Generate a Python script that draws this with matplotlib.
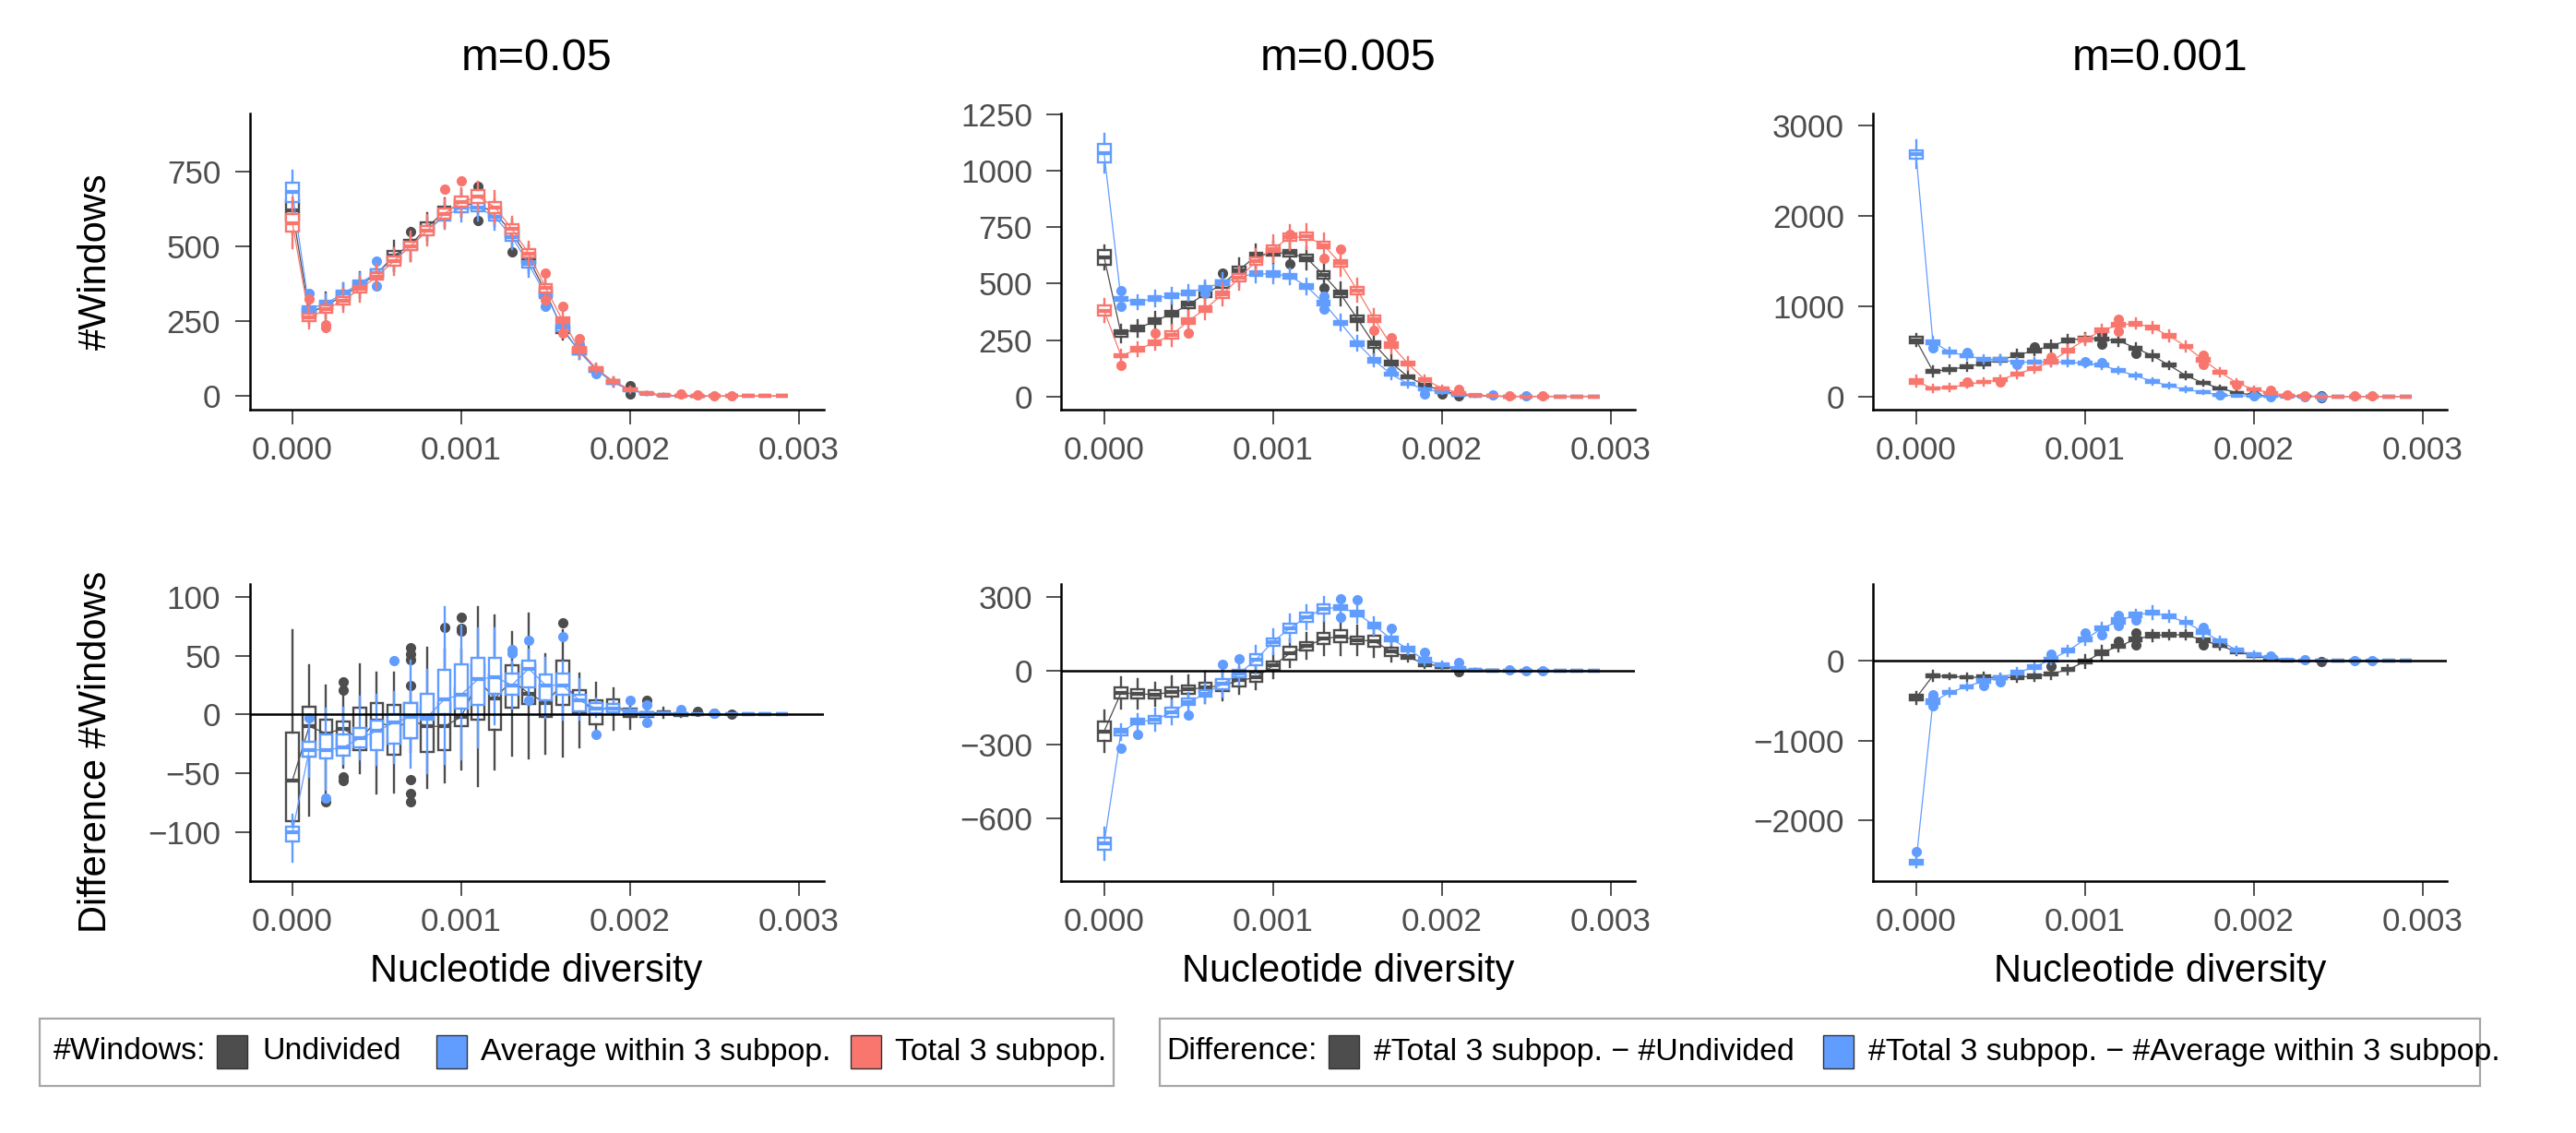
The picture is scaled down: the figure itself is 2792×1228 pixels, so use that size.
import matplotlib
matplotlib.use("Agg")
import matplotlib.pyplot as plt
from matplotlib.patches import Rectangle
import numpy as np

plt.rcParams['font.family'] = ['Liberation Sans', 'DejaVu Sans']

# ---------------- data ----------------
bins = [i * 0.0001 for i in range(30)]
xticks = [0.0, 0.001, 0.002, 0.003]
xticklabels = ['0.000', '0.001', '0.002', '0.003']
titles = ['m=0.05', 'm=0.005', 'm=0.001']
series_names = ['Undivided', 'Average within 3 subpop.', 'Total 3 subpop.']
diff_names = ['#Total 3 subpop. \u2212 #Undivided', '#Total 3 subpop. \u2212 #Average within 3 subpop.']

# Top-left (m=0.05): medians, IQR, whisker extension beyond box, outliers (bin, value)
TL_gray_med = [620, 277, 303, 335, 370, 408, 468, 505, 565, 615, 642, 638, 612, 545, 458, 347, 222, 150, 88, 47, 22, 9, 3, 1, 0, 0, 0, 0, 0, 0]
TL_gray_iqr = [65, 25, 25, 25, 28, 28, 30, 30, 30, 32, 30, 30, 30, 30, 28, 26, 22, 18, 14, 10, 7, 4, 2, 1, 1, 0, 0, 0, 0, 0]
TL_gray_wsk = [45, 25, 30, 30, 30, 30, 35, 40, 30, 30, 30, 30, 30, 30, 30, 26, 22, 16, 12, 10, 8, 4, 2, 1, 1, 0, 0, 0, 0, 0]
TL_gray_out = [(7, 548), (11, 699), (11, 586), (13, 481), (20, 34), (20, 8)]
TL_blue_med = [680, 290, 310, 342, 377, 412, 455, 500, 552, 600, 628, 630, 598, 532, 440, 338, 228, 148, 88, 46, 20, 8, 2, 1, 0, 0, 0, 0, 0, 0]
TL_blue_iqr = [63, 18, 18, 20, 20, 22, 22, 24, 24, 26, 28, 26, 25, 25, 24, 22, 20, 16, 12, 9, 6, 3, 2, 1, 0, 0, 0, 0, 0, 0]
TL_blue_wsk = [40, 20, 22, 25, 25, 25, 25, 30, 30, 30, 30, 30, 30, 30, 30, 25, 20, 15, 12, 9, 6, 3, 2, 1, 0, 0, 0, 0, 0, 0]
TL_blue_out = [(1, 342), (5, 452), (5, 368), (15, 301), (17, 172), (18, 75)]
TL_red_med = [578, 262, 290, 319, 357, 399, 450, 501, 553, 609, 648, 666, 630, 558, 476, 361, 253, 155, 92, 50, 22, 9, 3, 1, 0, 0, 0, 0, 0, 0]
TL_red_iqr = [59, 25, 24, 26, 23, 23, 30, 28, 31, 36, 34, 41, 36, 30, 29, 28, 20, 16, 12, 9, 6, 3, 2, 1, 1, 0, 0, 0, 0, 0]
TL_red_wsk = [55, 25, 20, 25, 30, 30, 30, 35, 35, 30, 30, 30, 35, 25, 25, 20, 18, 14, 12, 9, 6, 3, 2, 1, 1, 0, 0, 0, 0, 0]
TL_red_out = [(1, 325), (2, 239), (2, 229), (9, 692), (10, 719), (15, 409), (15, 322), (16, 301), (16, 209), (17, 193), (23, 8), (24, 3), (25, 2), (26, 2)]

# Top-middle (m=0.005)
TM_gray_med = [617, 279, 302, 333, 367, 406, 456, 497, 561, 623, 638, 635, 613, 538, 455, 344, 231, 149, 87, 49, 26, 8, 3, 1, 0, 0, 0, 0, 0, 0]
TM_gray_iqr = [68, 30, 25, 25, 28, 28, 32, 32, 30, 30, 28, 28, 30, 32, 32, 30, 28, 20, 15, 12, 8, 4, 2, 1, 0, 0, 0, 0, 0, 0]
TM_gray_wsk = [20, 25, 25, 30, 35, 35, 35, 40, 35, 35, 35, 35, 35, 35, 35, 35, 30, 25, 20, 12, 8, 4, 2, 1, 0, 0, 0, 0, 0, 0]
TM_gray_out = [(7, 548), (11, 586), (13, 481), (20, 10), (21, 2)]
TM_blue_med = [1078, 432, 418, 436, 447, 460, 481, 504, 530, 545, 542, 534, 488, 415, 326, 235, 160, 98, 56, 33, 18, 5, 2, 1, 0, 0, 0, 0, 0, 0]
TM_blue_iqr = [82, 18, 18, 20, 18, 20, 20, 22, 25, 22, 22, 20, 20, 20, 20, 20, 18, 14, 10, 8, 6, 3, 1, 1, 0, 0, 0, 0, 0, 0]
TM_blue_wsk = [45, 25, 20, 25, 25, 25, 25, 30, 30, 30, 30, 25, 25, 25, 25, 22, 18, 14, 10, 8, 6, 3, 1, 1, 0, 0, 0, 0, 0, 0]
TM_blue_out = [(1, 470), (1, 399), (6, 456), (13, 443), (13, 388), (17, 111), (19, 10), (23, 5), (25, 4)]
TM_red_med = [381, 180, 209, 238, 272, 335, 388, 452, 525, 600, 654, 705, 709, 671, 590, 470, 344, 228, 145, 74, 37, 15, 5, 1, 0, 0, 0, 0, 0, 0]
TM_red_iqr = [43, 15, 18, 22, 34, 25, 25, 30, 32, 30, 30, 32, 32, 30, 32, 32, 30, 22, 18, 12, 8, 5, 2, 1, 0, 0, 0, 0, 0, 0]
TM_red_wsk = [30, 20, 20, 20, 30, 30, 35, 35, 35, 40, 45, 40, 40, 35, 40, 35, 30, 25, 20, 14, 8, 5, 2, 1, 0, 0, 0, 0, 0, 0]
TM_red_out = [(1, 139), (3, 281), (5, 279), (11, 718), (13, 613), (14, 652), (16, 292), (17, 261), (21, 33), (24, 3), (26, 2)]

# Top-right (m=0.001)
TR_gray_med = [625, 280, 297, 331, 365, 406, 457, 509, 560, 621, 645, 635, 618, 536, 451, 345, 229, 150, 89, 41, 14, 6, 2, 1, 0, 0, 0, 0, 0, 0]
TR_gray_iqr = [68, 35, 30, 30, 35, 35, 35, 35, 35, 35, 35, 35, 35, 35, 35, 30, 30, 25, 20, 15, 10, 5, 2, 1, 0, 0, 0, 0, 0, 0]
TR_gray_wsk = [30, 40, 30, 30, 35, 35, 40, 40, 40, 40, 40, 40, 40, 35, 35, 30, 25, 20, 15, 10, 8, 4, 2, 1, 0, 0, 0, 0, 0, 0]
TR_gray_out = [(7, 549), (11, 696), (11, 584), (13, 474), (20, 30), (24, 6), (24, -10)]
TR_blue_med = [2683, 604, 491, 450, 413, 406, 379, 382, 382, 379, 365, 345, 287, 229, 167, 116, 75, 48, 14, 7, 3, 2, 1, 0, 0, 0, 0, 0, 0, 0]
TR_blue_iqr = [85, 40, 35, 30, 30, 30, 30, 30, 30, 30, 30, 30, 25, 25, 25, 20, 20, 15, 10, 8, 5, 3, 1, 1, 0, 0, 0, 0, 0, 0]
TR_blue_wsk = [110, 40, 35, 30, 30, 35, 30, 30, 30, 30, 30, 30, 25, 25, 25, 20, 20, 15, 10, 8, 5, 3, 1, 1, 0, 0, 0, 0, 0, 0]
TR_blue_out = [(1, 543), (3, 491), (6, 355), (10, 390), (11, 372), (18, 20), (20, 8), (21, -5), (23, -3), (24, -8)]
TR_red_med = [167, 89, 99, 133, 160, 184, 249, 311, 386, 509, 628, 730, 792, 809, 764, 669, 553, 406, 270, 150, 78, 38, 10, 3, 0, 0, 0, 0, 0, 0]
TR_red_iqr = [45, 25, 25, 28, 28, 30, 35, 35, 35, 40, 40, 40, 40, 40, 40, 40, 35, 35, 30, 25, 18, 10, 5, 2, 0, 0, 0, 0, 0, 0]
TR_red_wsk = [40, 25, 25, 25, 30, 30, 30, 35, 35, 40, 40, 40, 40, 40, 45, 40, 35, 35, 30, 25, 18, 10, 5, 2, 0, 0, 0, 0, 0, 0]
TR_red_out = [(3, 157), (5, 157), (8, 440), (12, 857), (12, 720), (17, 457), (17, 355), (19, 133), (21, 65), (22, 15), (23, 8), (26, 2), (27, 2)]

# Bottom-left (difference, m=0.05): explicit box statistics
BL_gray_lo = [-92, -86, -72, -45, -50, -67, -66, -32, -62, -58, -47, -61, -47, -35, -37, -33, -36, -28, -12, -13, -12, -6, -3, -2, 0, 0, 0, 0, 0, 0]
BL_gray_q1 = [-91, -36, -36, -30, -30, -26, -34, -20, -32, -30, -10, -4, -13, 6, 9, -2, 8, 1, -8, 2, -2, -2, 0, -1, 0, 0, 0, 0, 0, 0]
BL_gray_med = [-56, -10, -16, -12, -21, -5, -12, -5, -10, -10, -2, 29, 14, 29, 18, 10, 26, 13, 2, 8, 2, 1, 2, 0, 0, 0, 0, 0, 0, 0]
BL_gray_q3 = [-15, 7, -4, -6, 6, 10, 8, 10, 5, 10, 22, 42, 34, 42, 43, 25, 46, 21, 12, 13, 5, 2, 3, 1, 0, 0, 0, 0, 0, 0]
BL_gray_hi = [72, 42, 25, 15, 43, 36, 36, 20, 57, 55, 55, 91, 84, 70, 86, 51, 72, 35, 27, 22, 10, 5, 6, 2, 0, 0, 0, 0, 0, 0]
BL_gray_out = [(2, -74), (3, 28), (3, 21), (3, -53), (3, -56), (7, 57), (7, 51), (7, 47), (7, 25), (7, -55), (7, -67), (7, -74),
               (9, 74), (10, 83), (10, 73), (10, 71), (16, 78), (21, 12), (24, 3), (25, 1), (26, 0)]
BL_blue_lo = [-125, -53, -64, -42, -38, -43, -41, -45, -50, -42, -38, -28, -8, 5, 18, -3, -4, -4, -2, 0, 0, -2, 0, 0, 0, 0, 0, 0, 0, 0]
BL_blue_q1 = [-108, -36, -37, -35, -28, -30, -25, -20, -4, 0, 5, 8, 18, 17, 23, 12, 17, 3, 1, 2, 0, -1, 0, 0, 0, 0, 0, 0, 0, 0]
BL_blue_med = [-100, -30, -30, -28, -20, -14, -7, -2, -2, 13, 17, 30, 32, 25, 39, 25, 25, 12, 5, 5, 2, 1, 1, 0, 0, 0, 0, 0, 0, 0]
BL_blue_q3 = [-95, -23, -17, -17, -11, -5, 0, 10, 18, 38, 43, 48, 48, 35, 46, 34, 35, 17, 10, 9, 4, 2, 2, 1, 0, 0, 0, 0, 0, 0]
BL_blue_hi = [-85, -8, 5, 6, 15, 17, 19, 46, 38, 91, 76, 73, 73, 45, 55, 48, 45, 30, 14, 12, 6, 3, 2, 1, 0, 0, 0, 0, 0, 0]
BL_blue_out = [(1, -3), (2, -71), (6, 46), (13, 55), (13, 52), (14, 63), (14, 12), (16, 66), (18, -17), (20, 12), (21, 8), (21, -7), (23, 4), (25, 1)]

# Bottom-middle (difference, m=0.005)
BM_gray_med = [-247, -90, -95, -97, -87, -77, -68, -61, -40, -28, 20, 70, 99, 130, 139, 124, 120, 77, 54, 29, 16, 6, 2, 1, 0, 0, 0, 0, 0, 0]
BM_gray_iqr = [79, 46, 38, 35, 39, 33, 35, 47, 50, 38, 32, 53, 35, 44, 50, 32, 47, 34, 15, 19, 10, 5, 2, 1, 0, 0, 0, 0, 0, 0]
BM_gray_wsk = [45, 40, 40, 30, 45, 40, 45, 38, 30, 30, 35, 30, 35, 45, 50, 45, 40, 25, 10, 10, 6, 4, 2, 1, 0, 0, 0, 0, 0, 0]
BM_gray_out = [(21, -5)]
BM_blue_med = [-704, -250, -208, -200, -170, -128, -93, -55, -12, 45, 117, 172, 218, 252, 257, 232, 183, 129, 88, 42, 23, 9, 2, 1, 0, 0, 0, 0, 0, 0]
BM_blue_iqr = [50, 25, 24, 28, 38, 26, 29, 38, 31, 44, 31, 41, 37, 38, 17, 22, 21, 17, 16, 18, 13, 10, 3, 1, 0, 0, 0, 0, 0, 0]
BM_blue_wsk = [40, 20, 20, 30, 30, 25, 25, 30, 30, 35, 35, 35, 30, 30, 25, 25, 25, 15, 12, 10, 8, 5, 2, 1, 0, 0, 0, 0, 0, 0]
BM_blue_out = [(1, -316), (2, -260), (5, -181), (7, 24), (8, 48), (14, 292), (14, 217), (15, 290), (17, 171), (19, 74), (21, 33), (24, 4), (25, 1), (26, 1)]

# Bottom-right (difference, m=0.001)
BR_gray_med = [-467, -189, -197, -208, -208, -216, -205, -197, -166, -112, -12, 100, 181, 266, 317, 324, 324, 255, 189, 112, 62, 23, 5, 2, 0, 0, 0, 0, 0, 0]
BR_gray_iqr = [69, 38, 30, 30, 40, 35, 40, 40, 40, 40, 45, 50, 40, 40, 55, 50, 45, 40, 35, 30, 20, 10, 5, 2, 0, 0, 0, 0, 0, 0]
BR_gray_wsk = [40, 40, 20, 30, 40, 30, 45, 40, 40, 40, 60, 60, 40, 40, 40, 30, 40, 40, 30, 25, 15, 10, 5, 2, 0, 0, 0, 0, 0, 0]
BR_gray_out = [(8, -69), (12, 247), (13, 344), (13, 201), (17, 201), (24, -5)]
BR_blue_med = [-2525, -517, -398, -324, -255, -216, -151, -81, 15, 124, 266, 402, 498, 575, 602, 556, 479, 363, 247, 131, 73, 42, 10, 2, 0, 0, 0, 0, 0, 0]
BR_blue_iqr = [50, 58, 40, 35, 40, 40, 40, 45, 40, 45, 50, 50, 60, 50, 50, 50, 40, 50, 40, 35, 30, 20, 8, 3, 0, 0, 0, 0, 0, 0]
BR_blue_wsk = [40, 20, 30, 30, 40, 40, 40, 40, 40, 40, 40, 50, 50, 40, 60, 40, 40, 60, 40, 30, 25, 20, 8, 3, 0, 0, 0, 0, 0, 0]
BR_blue_out = [(0, -2390), (1, -429), (1, -467), (1, -564), (4, -313), (5, -266), (8, 81), (10, 344), (11, 324), (12, 568), (12, 436),
               (13, 514), (17, 421), (21, 60), (23, 15), (26, 2), (27, 2)]

# axis limits / ticks per panel
ylims = {'TL': (-45, 943), 'TM': (-59, 1255), 'TR': (-147, 3137),
         'BL': (-141.6, 111), 'BM': (-856, 352), 'BR': (-2764, 961)}
yticks = {'TL': [0, 250, 500, 750], 'TM': [0, 250, 500, 750, 1000, 1250], 'TR': [0, 1000, 2000, 3000],
          'BL': [-100, -50, 0, 50, 100], 'BM': [-600, -300, 0, 300], 'BR': [-2000, -1000, 0]}

GRAY = '#4D4D4D'
BLUE = '#619CFF'
RED = '#F8766D'

# ---------------- figure ----------------
W, H = 2792, 1228
fig = plt.figure(figsize=(W / 200, H / 200), dpi=200)


def fx(px):
    return px / W


def fy(py):
    return 1 - py / H


col_left = [270.6, 1150.4, 2030.4]
ax_w = 622
rows = {'T': (123, 444), 'B': (633, 955)}

axes = {}
for r, (top, bot) in rows.items():
    for c, key in enumerate(['L', 'M', 'R']):
        ax = fig.add_axes([fx(col_left[c]), fy(bot), fx(ax_w), (bot - top) / H])
        axes[r + key] = ax


def stats_from_iqr(med, iqr, wsk, out):
    st = []
    for i in range(len(med)):
        q1 = med[i] - iqr[i] / 2
        q3 = med[i] + iqr[i] / 2
        st.append(dict(med=med[i], q1=q1, q3=q3, whislo=q1 - wsk[i], whishi=q3 + wsk[i],
                       fliers=np.array([v for (b, v) in out if b == i])))
    return st


def stats_explicit(lo, q1, med, q3, hi, out):
    st = []
    for i in range(len(med)):
        st.append(dict(med=med[i], q1=q1[i], q3=q3[i], whislo=lo[i], whishi=hi[i],
                       fliers=np.array([v for (b, v) in out if b == i])))
    return st


def draw(ax, st, med, color, z):
    lw = 0.85
    ax.bxp(st, positions=bins, widths=0.000075, patch_artist=True, showcaps=False, manage_ticks=False,
           boxprops=dict(facecolor='white', edgecolor=color, linewidth=lw),
           whiskerprops=dict(color=color, linewidth=lw),
           medianprops=dict(color=color, linewidth=lw * 1.8, solid_capstyle='butt'),
           flierprops=dict(marker='o', markerfacecolor=color, markeredgecolor=color, markersize=3.0, linestyle='none'),
           zorder=z)
    ax.plot(bins, med, color=color, lw=0.45, zorder=z + 0.5)


panels = {
    'TL': [(stats_from_iqr(TL_gray_med, TL_gray_iqr, TL_gray_wsk, TL_gray_out), TL_gray_med, GRAY),
           (stats_from_iqr(TL_blue_med, TL_blue_iqr, TL_blue_wsk, TL_blue_out), TL_blue_med, BLUE),
           (stats_from_iqr(TL_red_med, TL_red_iqr, TL_red_wsk, TL_red_out), TL_red_med, RED)],
    'TM': [(stats_from_iqr(TM_gray_med, TM_gray_iqr, TM_gray_wsk, TM_gray_out), TM_gray_med, GRAY),
           (stats_from_iqr(TM_blue_med, TM_blue_iqr, TM_blue_wsk, TM_blue_out), TM_blue_med, BLUE),
           (stats_from_iqr(TM_red_med, TM_red_iqr, TM_red_wsk, TM_red_out), TM_red_med, RED)],
    'TR': [(stats_from_iqr(TR_gray_med, TR_gray_iqr, TR_gray_wsk, TR_gray_out), TR_gray_med, GRAY),
           (stats_from_iqr(TR_blue_med, TR_blue_iqr, TR_blue_wsk, TR_blue_out), TR_blue_med, BLUE),
           (stats_from_iqr(TR_red_med, TR_red_iqr, TR_red_wsk, TR_red_out), TR_red_med, RED)],
    'BL': [(stats_explicit(BL_gray_lo, BL_gray_q1, BL_gray_med, BL_gray_q3, BL_gray_hi, BL_gray_out), BL_gray_med, GRAY),
           (stats_explicit(BL_blue_lo, BL_blue_q1, BL_blue_med, BL_blue_q3, BL_blue_hi, BL_blue_out), BL_blue_med, BLUE)],
    'BM': [(stats_from_iqr(BM_gray_med, BM_gray_iqr, BM_gray_wsk, BM_gray_out), BM_gray_med, GRAY),
           (stats_from_iqr(BM_blue_med, BM_blue_iqr, BM_blue_wsk, BM_blue_out), BM_blue_med, BLUE)],
    'BR': [(stats_from_iqr(BR_gray_med, BR_gray_iqr, BR_gray_wsk, BR_gray_out), BR_gray_med, GRAY),
           (stats_from_iqr(BR_blue_med, BR_blue_iqr, BR_blue_wsk, BR_blue_out), BR_blue_med, BLUE)],
}


def fmt(v):
    s = '%d' % v
    return s.replace('-', '\u2212')


for key, ax in axes.items():
    for z, (st, med, color) in enumerate(panels[key]):
        draw(ax, st, med, color, 2 + z)
    if key.startswith('B'):
        ax.axhline(0, color='black', lw=0.9, zorder=10)
    ax.set_xlim(-0.000253, 0.003146)
    ax.set_ylim(*ylims[key])
    ax.set_xticks(xticks)
    ax.set_xticklabels(xticklabels)
    ax.set_yticks(yticks[key])
    ax.set_yticklabels([fmt(v) for v in yticks[key]])
    for s in ['top', 'right']:
        ax.spines[s].set_visible(False)
    for s in ['left', 'bottom']:
        ax.spines[s].set_linewidth(0.9)
        ax.spines[s].set_color('black')
    ax.tick_params(axis='both', length=5.8, width=0.6, color='#333333', labelcolor='#4D4D4D', labelsize=12.6)
    ax.tick_params(axis='y', pad=5.5)
    ax.tick_params(axis='x', pad=4.2)
    ax.set_facecolor('none')

# titles
for c, t in enumerate(titles):
    fig.text(fx(col_left[c] + ax_w / 2), fy(63), t, ha='center', va='center', fontsize=17.5, color='black')
    fig.text(fx(col_left[c] + ax_w / 2), fy(1053), 'Nucleotide diversity', ha='center', va='center',
             fontsize=15, color='black')

fig.text(fx(104), fy(283), '#Windows', rotation=90, ha='center', va='center', fontsize=15, color='black')
fig.text(fx(104), fy(815), 'Difference #Windows', rotation=90, ha='center', va='center', fontsize=15, color='black')

# legends
lg_top, lg_bot = 1104, 1177
ty = fy(1140)
lfs = 12.2


def box(x0, x1):
    fig.add_artist(Rectangle((fx(x0), fy(lg_bot)), fx(x1 - x0), (lg_bot - lg_top) / H, transform=fig.transFigure,
                             facecolor='white', edgecolor='#A6A6A6', linewidth=0.8))


def key(x0, color):
    fig.add_artist(Rectangle((fx(x0), fy(1158)), fx(33), 36 / H, transform=fig.transFigure,
                             facecolor=color, edgecolor='#333333', linewidth=0.5))


box(43, 1207)
fig.text(fx(58), ty, '#Windows:', ha='left', va='center', fontsize=lfs)
key(235, GRAY)
fig.text(fx(284), ty, series_names[0], ha='left', va='center', fontsize=lfs)
key(473, BLUE)
fig.text(fx(521), ty, series_names[1], ha='left', va='center', fontsize=lfs)
key(922, RED)
fig.text(fx(970), ty, series_names[2], ha='left', va='center', fontsize=lfs)

box(1257, 2688)
fig.text(fx(1264), ty, 'Difference:', ha='left', va='center', fontsize=lfs)
key(1440, GRAY)
fig.text(fx(1489), ty, diff_names[0], ha='left', va='center', fontsize=lfs)
key(1976, BLUE)
fig.text(fx(2025), ty, diff_names[1], ha='left', va='center', fontsize=lfs)

fig.savefig('out.png', dpi=200, facecolor='white')
